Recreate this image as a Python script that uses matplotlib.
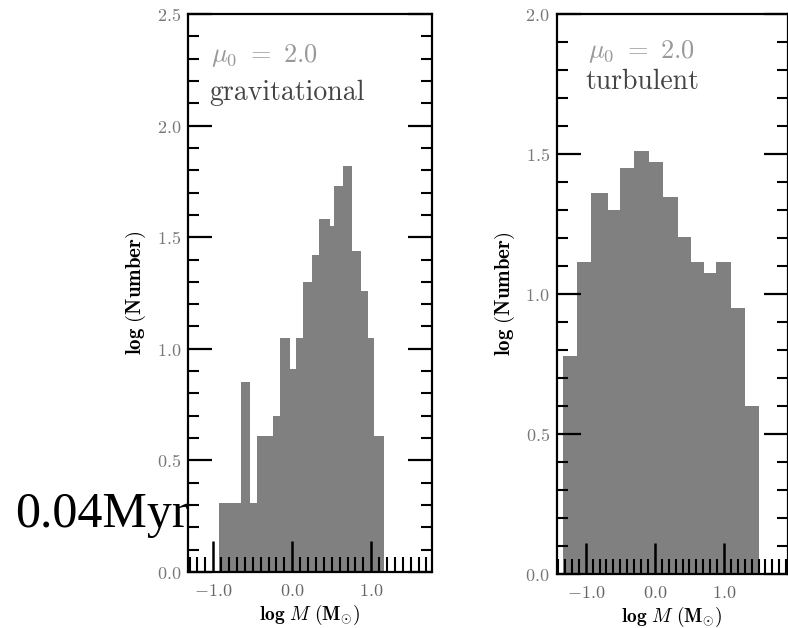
import matplotlib
matplotlib.use("Agg")
import matplotlib.pyplot as plt
from matplotlib.ticker import FixedLocator, MultipleLocator, FuncFormatter

# histogram: bin edges (log M) and bar heights (log Number)
grav_edges = [-0.93, -0.654, -0.54, -0.443, -0.244, -0.161, -0.022, 0.05, 0.135,
              0.249, 0.333, 0.472, 0.527, 0.649, 0.76, 0.873, 0.958, 1.04, 1.16]
grav_heights = [0.31, 0.85, 0.31, 0.61, 0.70, 1.05, 0.91, 1.05, 1.30,
                1.42, 1.58, 1.55, 1.73, 1.82, 1.44, 1.26, 1.05, 0.61]

turb_edges = [-1.33, -1.12, -0.92, -0.68, -0.50, -0.30, -0.08, 0.12, 0.33,
              0.52, 0.71, 0.88, 1.10, 1.30, 1.50]
turb_heights = [0.78, 1.115, 1.36, 1.30, 1.45, 1.51, 1.47, 1.345, 1.205,
                1.115, 1.075, 1.115, 0.95, 0.60]

panels = [
    # edges, heights, label, ylim top, xlim, axes rect, (text x, mu y, name y)
    (grav_edges, grav_heights, "gravitational", 2.5, (-1.32, 1.77),
     [0.2386, 0.0892, 0.3096, 0.8885], (0.085, 0.925, 0.858)),
    (turb_edges, turb_heights, "turbulent", 2.0, (-1.42, 1.92),
     [0.7065, 0.0860, 0.2930, 0.8917], (0.125, 0.932, 0.878)),
]

plt.rcParams["mathtext.fontset"] = "cm"
plt.rcParams["axes.linewidth"] = 1.6

fig = plt.figure(figsize=(7.88, 6.28), dpi=100)

for edges, heights, name, ytop, xlim, rect, (tx, ymu, yname) in panels:
    ax = fig.add_axes(rect)
    ax.stairs(heights, edges, fill=True, color="#808080", linewidth=0)
    ax.set_xlim(*xlim)
    ax.set_ylim(0, ytop)

    ax.xaxis.set_major_locator(FixedLocator([-1.0, 0.0, 1.0]))
    ax.xaxis.set_minor_locator(MultipleLocator(0.1))
    ax.yaxis.set_major_locator(MultipleLocator(0.5))
    ax.yaxis.set_minor_locator(MultipleLocator(0.1))
    fmt = FuncFormatter(lambda v, p: r"$%.1f$" % v)
    ax.xaxis.set_major_formatter(fmt)
    ax.yaxis.set_major_formatter(fmt)

    ax.tick_params(axis="x", which="major", direction="in", length=22, width=1.8,
                   top=False, labelsize=13, labelcolor="#666666", pad=7)
    ax.tick_params(axis="x", which="minor", direction="in", length=11, width=1.5,
                   top=False)
    ax.tick_params(axis="y", which="major", direction="in", length=17, width=1.6,
                   right=True, labelsize=13, labelcolor="#777777", pad=5)
    ax.tick_params(axis="y", which="minor", direction="in", length=8, width=1.5,
                   right=True)

    ax.set_ylabel(r"$\mathbf{log\ (Number)}$", fontsize=15, labelpad=6)
    ax.set_xlabel(r"$\mathbf{log}\ M\ (\mathbf{M}_{\odot})$", fontsize=14, labelpad=2)

    ax.text(tx + 0.01, ymu, r"$\mu_0\ =\ 2.0$", transform=ax.transAxes, fontsize=19,
            color="#999999", va="center", ha="left")
    ax.text(tx, yname, name, transform=ax.transAxes, fontsize=20,
            family="cmr10", color="#444444", va="center", ha="left")

fig.text(15 / 788, 1 - 527 / 628, "0.04Myr", family="Liberation Serif",
         fontsize=36, color="black", va="baseline", ha="left")

fig.savefig("out.png", dpi=100)
